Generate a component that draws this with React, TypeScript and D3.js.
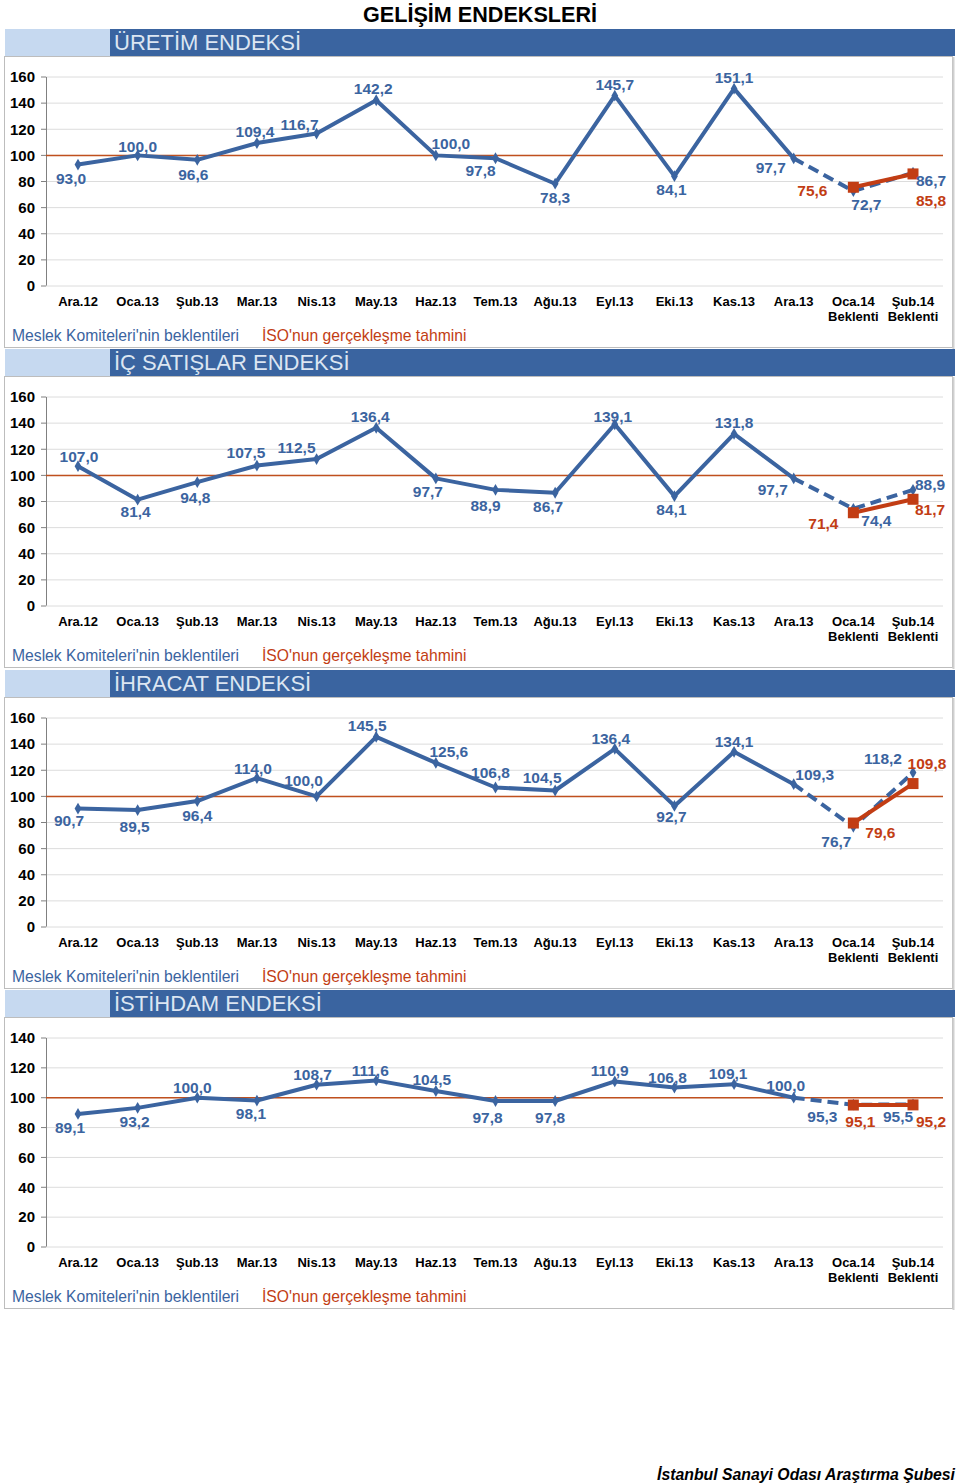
import React from "react";
import * as d3 from "d3";

const categories = ["Ara.12", "Oca.13", "Şub.13", "Mar.13", "Nis.13", "May.13", "Haz.13", "Tem.13", "Ağu.13", "Eyl.13", "Eki.13", "Kas.13", "Ara.13", "Oca.14", "Şub.14"];
const categorySub = ["", "", "", "", "", "", "", "", "", "", "", "", "", "Beklenti", "Beklenti"];

const uretimBlue = [93.0, 100.0, 96.6, 109.4, 116.7, 142.2, 100.0, 97.8, 78.3, 145.7, 84.1, 151.1, 97.7, 72.7, 86.7];
const uretimRed = [75.6, 85.8];
const icSatisBlue = [107.0, 81.4, 94.8, 107.5, 112.5, 136.4, 97.7, 88.9, 86.7, 139.1, 84.1, 131.8, 97.7, 74.4, 88.9];
const icSatisRed = [71.4, 81.7];
const ihracatBlue = [90.7, 89.5, 96.4, 114.0, 100.0, 145.5, 125.6, 106.8, 104.5, 136.4, 92.7, 134.1, 109.3, 76.7, 118.2];
const ihracatRed = [79.6, 109.8];
const istihdamBlue = [89.1, 93.2, 100.0, 98.1, 108.7, 111.6, 104.5, 97.8, 97.8, 110.9, 106.8, 109.1, 100.0, 95.3, 95.5];
const istihdamRed = [95.1, 95.2];

const uretimTicks = [0, 20, 40, 60, 80, 100, 120, 140, 160];
const istihdamTicks = [0, 20, 40, 60, 80, 100, 120, 140];

// label offsets (relative to the point) — styling only
const uretimBlueOff = [[-7, 14], [0, -9], [-4, 15], [-2, -12], [-17, -9], [-3, -12], [15, -12], [-15, 12], [0, 14], [0, -11], [-3, 13], [0, -11], [-23, 9], [13, 14], [18, 8]];
const uretimRedOff = [[-41, 3], [18, 27]];
const icSatisBlueOff = [[1, -10], [-2, 12], [-2, 15], [-11, -13], [-20, -11], [-6, -11], [-8, 13], [-10, 16], [-7, 14], [-2, -8], [-3, 13], [0, -11], [-21, 11], [23, 12], [17, -5]];
const icSatisRedOff = [[-30, 11], [17, 10]];
const ihracatBlueOff = [[-9, 12], [-3, 16], [0, 14], [-4, -10], [-13, -16], [-9, -11], [13, -11], [-5, -15], [-13, -13], [-4, -10], [-3, 11], [0, -10], [21, -10], [-17, 15], [-30, -14]];
const ihracatRedOff = [[27, 10], [14, -20]];
const istihdamBlueOff = [[-8, 14], [-3, 14], [-5, -10], [-6, 13], [-4, -10], [-6, -10], [-4, -11], [-8, 17], [-5, 17], [-5, -11], [-7, -10], [-6, -11], [-8, -12], [-31, 12], [-15, 12]];
const istihdamRedOff = [[7, 17], [18, 17]];

const panels = [
  { title: "ÜRETİM ENDEKSİ", blue: uretimBlue, red: uretimRed, ticks: uretimTicks, blueOff: uretimBlueOff, redOff: uretimRedOff },
  { title: "İÇ SATIŞLAR ENDEKSİ", blue: icSatisBlue, red: icSatisRed, ticks: uretimTicks, blueOff: icSatisBlueOff, redOff: icSatisRedOff },
  { title: "İHRACAT ENDEKSİ", blue: ihracatBlue, red: ihracatRed, ticks: uretimTicks, blueOff: ihracatBlueOff, redOff: ihracatRedOff },
  { title: "İSTİHDAM ENDEKSİ", blue: istihdamBlue, red: istihdamRed, ticks: istihdamTicks, blueOff: istihdamBlueOff, redOff: istihdamRedOff },
];

const BLUE = "#3b64a0";
const RED = "#c23d14";
const FONT = "'Liberation Sans', Arial, sans-serif";

function fmt(v: number) {
  return v.toFixed(1).replace(".", ",");
}

function Panel({ p, hy }: { p: typeof panels[0]; hy: number }) {
  const x = d3.scalePoint<string>().domain(categories).range([78, 913]);
  const ymax = p.ticks[p.ticks.length - 1];
  const y = d3.scaleLinear().domain([0, ymax]).range([hy + 257, hy + 48]);
  const line = d3.line<number>().x((_, i) => x(categories[i])!).y((v) => y(v));
  const solid = p.blue.slice(0, 13);
  const dashedIdx = [12, 13, 14];
  const dashLine = d3.line<number>().x((i) => x(categories[i])!).y((i) => y(p.blue[i]));
  const redIdx = [13, 14];
  const redLine = d3.line<number>().x((_, k) => x(categories[redIdx[k]])!).y((v) => y(v));
  const diamond = d3.symbol().type(d3.symbolDiamond).size(40)()!;
  return (
    <g>
      <rect x={5} y={hy} width={105} height={27} fill="#c6d9f0" />
      <rect x={110} y={hy} width={845} height={27} fill="#3a64a0" />
      <text x={114} y={hy + 21} fontSize={22} fill="#dce6f2" fontFamily={FONT}>{p.title}</text>
      <rect x={4.5} y={hy + 27.5} width={948} height={291} fill="#fff" stroke="#bdbdbd" />
      <line x1={953.5} x2={953.5} y1={hy + 28} y2={hy + 320} stroke="#d0d0d0" strokeWidth={2} />
      {p.ticks.map((t) => (
        <g key={t}>
          {t > 0 && <line x1={46} x2={943} y1={y(t)} y2={y(t)} stroke="#dcdcdc" />}
          <line x1={41} x2={46} y1={y(t)} y2={y(t)} stroke="#808080" />
          <text x={35} y={y(t)} dy="0.35em" textAnchor="end" fontSize={15} fontWeight="bold" fontFamily={FONT}>{t}</text>
        </g>
      ))}
      <line x1={46.5} x2={46.5} y1={y(ymax)} y2={y(0)} stroke="#808080" />
      <line x1={46} x2={943} y1={y(0)} y2={y(0)} stroke="#dcdcdc" />
      <line x1={46} x2={943} y1={y(100)} y2={y(100)} stroke="#c0501e" strokeWidth={1.5} />
      {categories.map((c, i) => (
        <g key={c}>
          <text x={x(c)} y={hy + 277} textAnchor="middle" fontSize={13} fontWeight="bold" fontFamily={FONT}>{c}</text>
          {categorySub[i] && <text x={x(c)} y={hy + 292} textAnchor="middle" fontSize={13} fontWeight="bold" fontFamily={FONT}>{categorySub[i]}</text>}
        </g>
      ))}
      <path d={line(solid)!} fill="none" stroke={BLUE} strokeWidth={4} strokeLinejoin="round" />
      <path d={dashLine(dashedIdx)!} fill="none" stroke={BLUE} strokeWidth={4} strokeDasharray="11,6" />
      <path d={redLine(p.red)!} fill="none" stroke={RED} strokeWidth={4} />
      {p.blue.map((v, i) => (
        <path key={i} d={diamond} transform={`translate(${x(categories[i])},${y(v)})`} fill={BLUE} />
      ))}
      {p.red.map((v, k) => (
        <rect key={k} x={x(categories[redIdx[k]])! - 5.5} y={y(v) - 5.5} width={11} height={11} fill={RED} />
      ))}
      {p.blue.map((v, i) => (
        <text key={i} x={x(categories[i])! + p.blueOff[i][0]} y={y(v) + p.blueOff[i][1]} dy="0.35em" textAnchor="middle" fontSize={15.5} fontWeight="bold" fill={BLUE} fontFamily={FONT}>{fmt(v)}</text>
      ))}
      {p.red.map((v, k) => (
        <text key={k} x={x(categories[redIdx[k]])! + p.redOff[k][0]} y={y(v) + p.redOff[k][1]} dy="0.35em" textAnchor="middle" fontSize={15.5} fontWeight="bold" fill={RED} fontFamily={FONT}>{fmt(v)}</text>
      ))}
      <text x={12} y={hy + 312} fontSize={15.7} fill={BLUE} fontFamily={FONT}>Meslek Komiteleri'nin beklentileri</text>
      <text x={262} y={hy + 312} fontSize={15.7} fill={RED} fontFamily={FONT}>İSO'nun gerçekleşme tahmini</text>
    </g>
  );
}

export default function App() {
  return (
    <svg width={960} height={1484} style={{ position: "absolute", left: 0, top: 0, background: "#fff" }}>
      <rect width={960} height={1484} fill="#fff" />
      <text x={480} y={22} textAnchor="middle" fontSize={21.6} fontWeight="bold" fontFamily={FONT}>GELİŞİM ENDEKSLERİ</text>
      {panels.map((p, i) => (
        <Panel key={p.title} p={p} hy={Math.round(29 + i * 320.33)} />
      ))}
      <text x={955} y={1480} textAnchor="end" fontSize={15.8} fontWeight="bold" fontStyle="italic" fontFamily={FONT}>İstanbul Sanayi Odası Araştırma Şubesi</text>
    </svg>
  );
}
